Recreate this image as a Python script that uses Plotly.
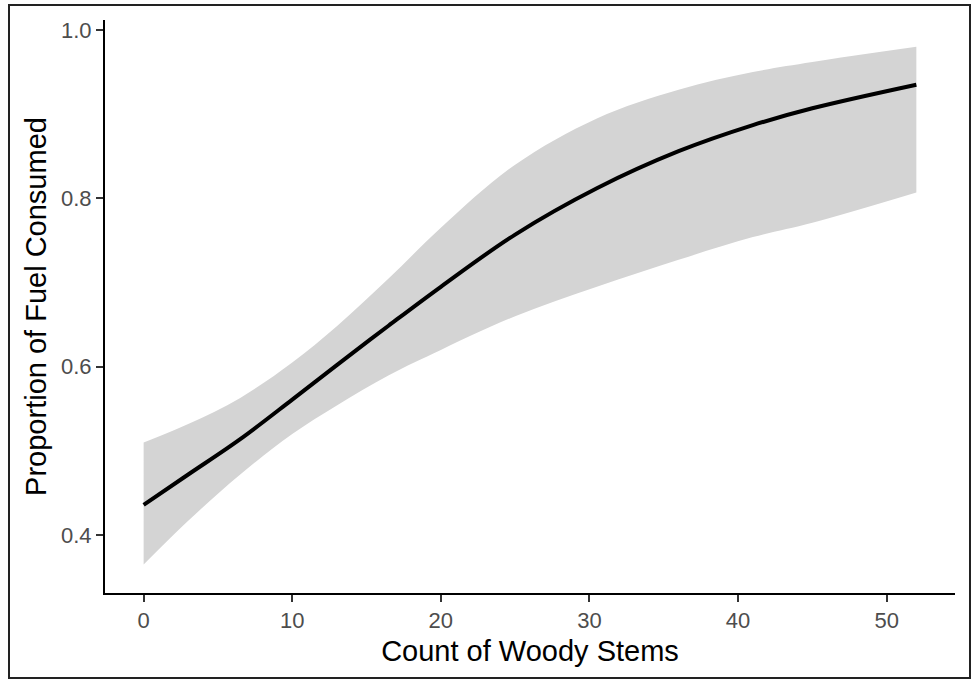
import plotly.graph_objects as go

# Data
stems = [0, 3, 6.5, 10, 13, 16.5, 20, 25, 30.5, 36, 41, 45, 52]
fit = [0.436, 0.472, 0.514, 0.561, 0.602, 0.649, 0.695, 0.757, 0.812, 0.856, 0.887, 0.907, 0.935]
upper = [0.510, 0.532, 0.563, 0.605, 0.648, 0.705, 0.765, 0.840, 0.895, 0.929, 0.950, 0.962, 0.980]
lower = [0.365, 0.417, 0.472, 0.520, 0.554, 0.590, 0.620, 0.660, 0.695, 0.727, 0.754, 0.771, 0.807]

x_ticks = [0, 10, 20, 30, 40, 50]
x_tick_labels = ["0", "10", "20", "30", "40", "50"]
y_ticks = [0.4, 0.6, 0.8, 1.0]
y_tick_labels = ["0.4", "0.6", "0.8", "1.0"]

W, H = 972, 686
ml, mr, mt, mb = 105, 17, 20, 93
pw, ph = W - ml - mr, H - mt - mb

fig = go.Figure()
fig.add_trace(go.Scatter(x=stems, y=lower, mode="lines",
                         line=dict(width=0, color="rgba(0,0,0,0)", shape="spline", smoothing=1.0),
                         showlegend=False, hoverinfo="skip"))
fig.add_trace(go.Scatter(x=stems, y=upper, mode="lines", fill="tonexty",
                         fillcolor="rgb(212,212,212)",
                         line=dict(width=0, color="rgba(0,0,0,0)", shape="spline", smoothing=1.0),
                         showlegend=False, hoverinfo="skip"))
fig.add_trace(go.Scatter(x=stems, y=fit, mode="lines",
                         line=dict(width=4, color="black", shape="spline", smoothing=1.0),
                         showlegend=False))

# outer frame in pixel coordinates converted to paper coords
def px_x(px):
    return (px - ml) / pw

def px_y(py):
    return (H - mb - py) / ph

fig.add_shape(type="rect", xref="paper", yref="paper",
              x0=px_x(9), x1=px_x(970), y0=px_y(678), y1=px_y(5),
              line=dict(color="#222", width=2), fillcolor="rgba(0,0,0,0)")

fig.update_layout(
    width=W, height=H,
    margin=dict(l=ml, r=mr, t=mt, b=mb),
    paper_bgcolor="white", plot_bgcolor="white",
    font=dict(family="Liberation Sans, Arial, sans-serif", color="black"),
    xaxis=dict(range=[-2.6, 54.6], showgrid=False, zeroline=False,
               showline=True, linecolor="black", linewidth=2,
               ticks="outside", ticklen=7, tickwidth=1.5, tickcolor="#333",
               tickvals=x_ticks, ticktext=x_tick_labels,
               tickfont=dict(size=22, color="#4D4D4D"),
               title=dict(text="Count of Woody Stems", font=dict(size=29, color="black"), standoff=8)),
    yaxis=dict(range=[0.3312, 1.0119], showgrid=False, zeroline=False,
               showline=True, linecolor="black", linewidth=2,
               ticks="outside", ticklen=7, tickwidth=1.5, tickcolor="#333",
               tickvals=y_ticks, ticktext=y_tick_labels,
               tickfont=dict(size=22, color="#4D4D4D"),
               title=dict(text="Proportion of Fuel Consumed", font=dict(size=29, color="black"), standoff=6)),
)

fig.write_html("out.html")
